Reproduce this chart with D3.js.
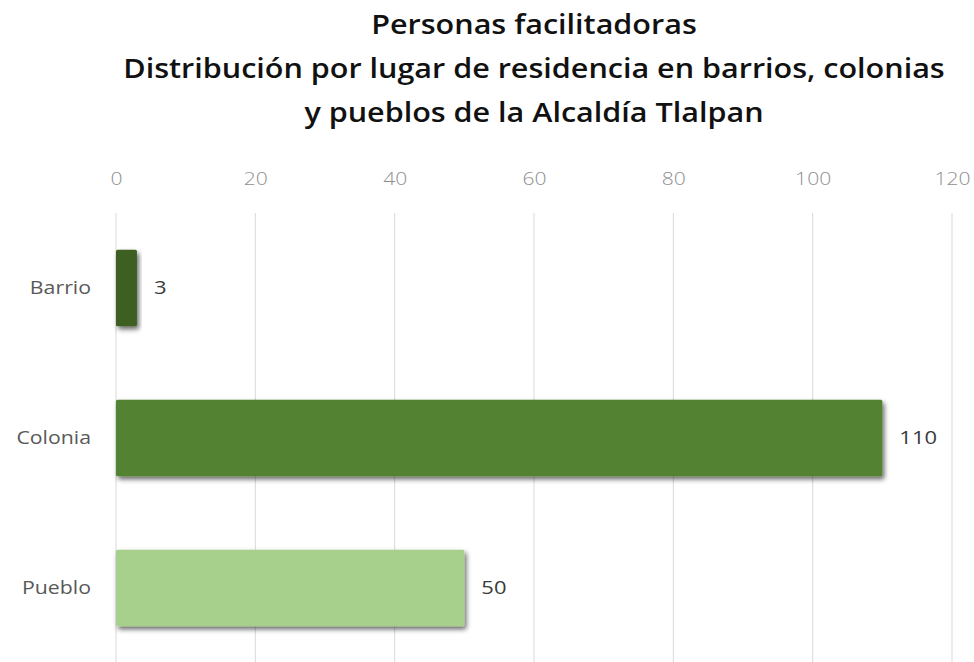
<!DOCTYPE html>
<html><head><meta charset="utf-8">
<script src="https://cdn.jsdelivr.net/npm/d3@7"></script>
<style>body{margin:0;background:#fff}</style>
</head><body>
<svg id="c" width="974" height="662"></svg>
<script>
const categories = ["Barrio", "Colonia", "Pueblo"];
const values = [3, 110, 50];
const colors = ["#3d5e22", "#538233", "#a8d08d"];
const tickValues = [0, 20, 40, 60, 80, 100, 120];
const titleLines = ["Personas facilitadoras", "Distribución por lugar de residencia en barrios, colonias", "y pueblos de la Alcaldía Tlalpan"];

const svg = d3.select("#c");
const FONT = "'Open Sans', sans-serif";
function stretch(sel, k) {
  sel.each(function(){
    const w = this.getComputedTextLength();
    d3.select(this).attr("textLength", w * k).attr("lengthAdjust", "spacingAndGlyphs");
  });
}
const defs = svg.append("defs");
const f = defs.append("filter").attr("id","sh").attr("x","-10%").attr("y","-20%").attr("width","130%").attr("height","160%");
f.append("feDropShadow").attr("dx",2).attr("dy",3).attr("stdDeviation",2.5).attr("flood-color","#000").attr("flood-opacity",0.6);

const x = d3.scaleLinear().domain([0,120]).range([116,952]);
const y = d3.scaleBand().domain(categories).range([213,663]).paddingInner(0.49).paddingOuter(0.245);

// title
svg.append("g").selectAll("text").data(titleLines).join("text")
  .attr("x", 534).attr("y", (d,i)=>[34,78,122][i])
  .attr("text-anchor","middle")
  .attr("font-family",FONT).attr("font-weight",600)
  .attr("font-size",27.5).attr("fill","#111")
  .text(d=>d)
  .call(stretch, 1.11);

// grid
svg.append("g").selectAll("line").data(tickValues).join("line")
  .attr("x1",d=>x(d)).attr("x2",d=>x(d)).attr("y1",213).attr("y2",662)
  .attr("stroke","#d9d9d9").attr("stroke-width",1);

// top axis labels
const ax = d3.axisTop(x).tickValues(tickValues).tickSize(0).tickPadding(0);
const gA = svg.append("g").attr("transform","translate(0,185)").call(ax);
gA.select(".domain").remove();
gA.selectAll("text").attr("font-family",FONT).attr("font-size",18.5)
  .attr("font-weight",300).attr("fill","#8f8f8f").call(stretch, 1.14);

// bars
svg.append("g").selectAll("rect").data(values).join("rect")
  .attr("x", x(0)).attr("y",(d,i)=>y(categories[i]))
  .attr("width",d=>x(d)-x(0)).attr("height",y.bandwidth())
  .attr("rx",1.5)
  .attr("fill",(d,i)=>colors[i]).attr("filter","url(#sh)");

// category labels
const ay = d3.axisLeft(y).tickSize(0).tickPadding(0);
const gY = svg.append("g").attr("transform","translate(91,0)").call(ay);
gY.select(".domain").remove();
gY.selectAll("text").attr("font-family",FONT).attr("font-size",19)
  .attr("fill","#595959").call(stretch, 1.12);

// value labels
svg.append("g").selectAll("text").data(values).join("text")
  .attr("x",d=>x(d)+17).attr("y",(d,i)=>y(categories[i])+y.bandwidth()/2)
  .attr("dy","0.36em")
  .attr("font-family",FONT).attr("font-size",18).attr("font-weight",500)
  .attr("fill","#3a3a3a").text(d=>d).call(stretch, 1.22);
</script>
</body></html>
